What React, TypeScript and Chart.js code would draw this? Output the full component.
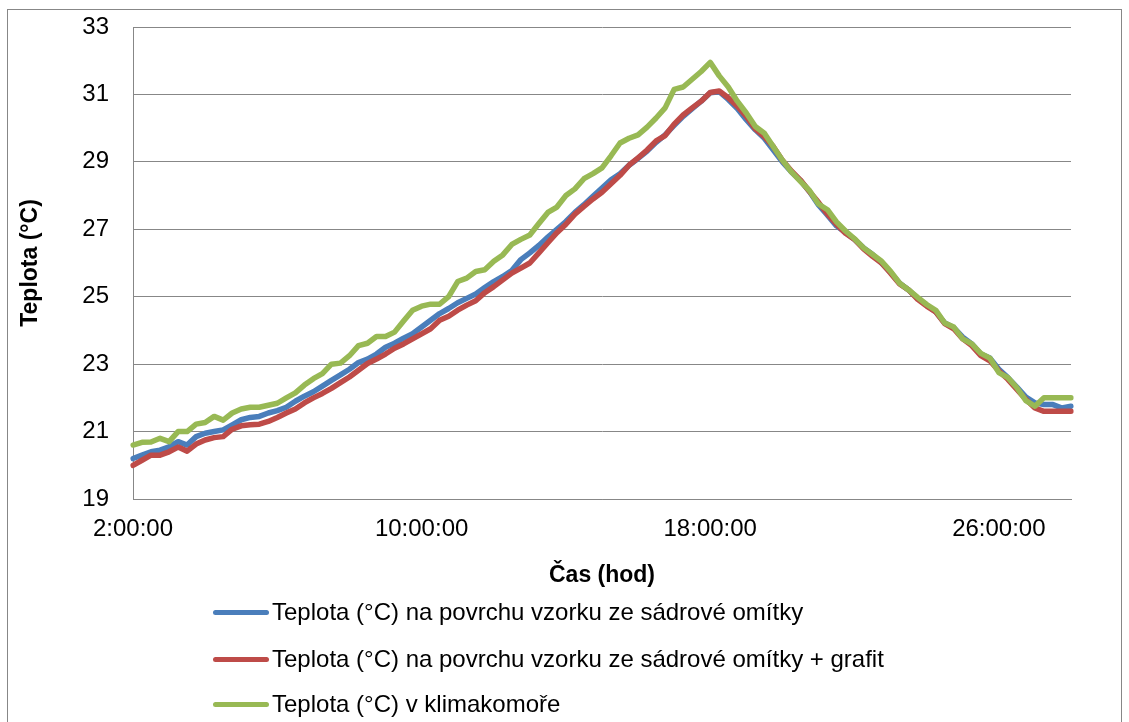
import React, { useEffect, useRef } from 'react';
import { Chart, registerables } from 'chart.js';

Chart.register(...registerables);

// Time categories: every 15 minutes from 2:00:00 to 28:00:00
const startMinutes = 2 * 60;
const stepMinutes = 15;
const pointCount = 105;
const timeLabels: string[] = Array.from({ length: pointCount }, (_, i) => {
  const m = startMinutes + i * stepMinutes;
  const h = Math.floor(m / 60);
  const mm = m % 60;
  return `${h}:${String(mm).padStart(2, '0')}:00`;
});
const shownTickLabels = ['2:00:00', '10:00:00', '18:00:00', '26:00:00'];

const yMin = 19;
const yMax = 33;
const yStep = 2;

const seriesNames = [
  'Teplota (°C) na povrchu vzorku ze sádrové omítky',
  'Teplota (°C) na povrchu vzorku ze sádrové omítky + grafit',
  'Teplota (°C) v klimakomoře',
];
const seriesColors = ['#4A7EBB', '#BE4B48', '#98B954'];

const plasterSurface = [
  20.2, 20.3, 20.4, 20.45, 20.55, 20.7, 20.6, 20.85, 20.95, 21.0,
  21.05, 21.2, 21.35, 21.42, 21.45, 21.55, 21.62, 21.72, 21.9, 22.05,
  22.18, 22.35, 22.52, 22.68, 22.85, 23.05, 23.15, 23.3, 23.5, 23.62,
  23.77, 23.9, 24.1, 24.3, 24.5, 24.65, 24.82, 24.95, 25.08, 25.27,
  25.45, 25.6, 25.78, 26.1, 26.3, 26.52, 26.77, 27.0, 27.23, 27.5,
  27.73, 27.98, 28.22, 28.47, 28.65, 28.9, 29.1, 29.32, 29.58, 29.8,
  30.08, 30.35, 30.58, 30.8, 31.05, 31.08, 30.85, 30.58, 30.25, 29.95,
  29.7, 29.35, 29.0, 28.7, 28.45, 28.12, 27.72, 27.42, 27.1, 26.9,
  26.7, 26.45, 26.25, 26.0, 25.72, 25.4, 25.2, 24.95, 24.75, 24.55,
  24.22, 24.08, 23.8, 23.6, 23.3, 23.18, 22.85, 22.6, 22.32, 22.02,
  21.85, 21.8, 21.8, 21.7, 21.75,
];

const plasterGraphiteSurface = [
  20.0, 20.15, 20.3, 20.3, 20.4, 20.54, 20.42, 20.63, 20.75, 20.82,
  20.85, 21.07, 21.17, 21.2, 21.22, 21.3, 21.42, 21.55, 21.67, 21.85,
  22.0, 22.13, 22.28, 22.45, 22.62, 22.82, 23.02, 23.15, 23.3, 23.47,
  23.6, 23.75, 23.9, 24.05, 24.3, 24.42, 24.6, 24.75, 24.88, 25.12,
  25.3, 25.5, 25.7, 25.85, 26.0, 26.3, 26.6, 26.9, 27.15, 27.45,
  27.68, 27.9, 28.1, 28.35, 28.6, 28.9, 29.12, 29.35, 29.62, 29.78,
  30.12, 30.39, 30.6, 30.8, 31.06, 31.1, 30.9, 30.65, 30.35, 29.98,
  29.75, 29.45, 29.05, 28.73, 28.46, 28.12, 27.8, 27.45, 27.15, 26.88,
  26.7, 26.42, 26.2, 26.0, 25.7, 25.38, 25.2, 24.92, 24.72, 24.55,
  24.2, 24.05, 23.75, 23.55, 23.25, 23.1, 22.8, 22.55, 22.25, 21.95,
  21.7, 21.6, 21.6, 21.6, 21.6,
];

const climateChamber = [
  20.6, 20.68, 20.69, 20.8, 20.7, 21.0, 21.0, 21.22, 21.27, 21.45,
  21.34, 21.55, 21.67, 21.72, 21.72, 21.78, 21.84, 22.0, 22.15, 22.38,
  22.57, 22.72, 23.0, 23.03, 23.25, 23.55, 23.62, 23.82, 23.82, 23.95,
  24.28, 24.6, 24.72, 24.78, 24.78, 25.0, 25.45, 25.55, 25.75, 25.8,
  26.05, 26.24, 26.55, 26.7, 26.83, 27.17, 27.5, 27.66, 28.0, 28.2,
  28.5, 28.65, 28.82, 29.18, 29.56, 29.7, 29.8, 30.03, 30.3, 30.6,
  31.15, 31.22, 31.45, 31.68, 31.95, 31.55, 31.22, 30.8, 30.45, 30.05,
  29.85, 29.45, 29.05, 28.7, 28.42, 28.15, 27.75, 27.58, 27.22, 26.95,
  26.72, 26.45, 26.25, 26.05, 25.75, 25.4, 25.2, 24.98, 24.77, 24.6,
  24.22, 24.1, 23.75, 23.6, 23.32, 23.18, 22.75, 22.6, 22.3, 21.92,
  21.75, 22.0, 22.0, 22.0, 22.0,
];

const seriesValues = [plasterSurface, plasterGraphiteSurface, climateChamber];
const drawOrder = [2, 1, 0];

const FONT = "'Liberation Sans', Arial, sans-serif";

export default function App() {
  const canvasRef = useRef<HTMLCanvasElement | null>(null);

  useEffect(() => {
    if (!canvasRef.current) return;
    const chart = new Chart(canvasRef.current, {
      type: 'line',
      data: {
        labels: timeLabels,
        datasets: seriesValues.map((vals, i) => ({
          label: seriesNames[i],
          data: vals,
          borderColor: seriesColors[i],
          backgroundColor: seriesColors[i],
          borderWidth: 5.5,
          pointRadius: 0,
          tension: 0,
          borderJoinStyle: 'round' as const,
          borderCapStyle: 'round' as const,
          order: drawOrder[i],
        })),
      },
      options: {
        animation: false,
        responsive: false,
        maintainAspectRatio: false,
        layout: { padding: { left: 4, top: 27, right: 58, bottom: 133 } },
        plugins: {
          legend: { display: false },
          tooltip: { enabled: false },
        },
        scales: {
          x: {
            type: 'category',
            grid: { display: false, drawTicks: false },
            border: { display: true, color: '#878787', width: 1 },
            ticks: {
              autoSkip: false,
              maxRotation: 0,
              minRotation: 0,
              padding: 16,
              color: '#000',
              font: { family: FONT, size: 24 },
              callback: function (this: any, value: any, index: number) {
                const lbl = timeLabels[index];
                return shownTickLabels.includes(lbl) ? lbl : '';
              },
            },
            title: {
              display: true,
              text: 'Čas (hod)',
              color: '#000',
              font: { family: FONT, size: 23, weight: 'bold' },
              padding: { top: 0, bottom: 0 },
            },
            afterFit: (scale: any) => {
              scale.height = 90;
              scale.paddingLeft = 0;
              scale.paddingRight = 0;
            },
          },
          y: {
            min: yMin,
            max: yMax,
            grid: { display: true, color: '#878787', lineWidth: 1, drawTicks: false },
            border: { display: true, color: '#878787', width: 1 },
            ticks: {
              stepSize: yStep,
              padding: 24,
              color: '#000',
              font: { family: FONT, size: 24 },
            },
            title: {
              display: true,
              text: 'Teplota (°C)',
              color: '#000',
              font: { family: FONT, size: 23, weight: 'bold' },
              padding: { top: 13, bottom: 0 },
            },
            afterFit: (scale: any) => {
              scale.width = 129;
              scale.paddingTop = 0;
              scale.paddingBottom = 0;
            },
          },
        },
      },
    });
    return () => chart.destroy();
  }, []);

  const legendCenters = [612, 659, 704];

  return (
    <div style={{ position: 'fixed', left: 0, top: 0, width: 1129, height: 722, background: '#fff', overflow: 'hidden' }}>
      <canvas ref={canvasRef} width={1129} height={722} style={{ position: 'absolute', left: 0, top: 0, width: 1129, height: 722 }} />
      <div style={{ position: 'absolute', left: 7, top: 9, width: 1113, height: 800, border: '1px solid #878787', pointerEvents: 'none' }} />
      {seriesNames.map((name, i) => (
        <div
          key={name}
          style={{
            position: 'absolute',
            left: 213,
            top: legendCenters[i] - 14,
            height: 28,
            display: 'flex',
            alignItems: 'center',
            fontFamily: FONT,
            fontSize: 24,
            color: '#000',
            whiteSpace: 'nowrap',
          }}
        >
          <div style={{ width: 56, height: 5, borderRadius: 3, background: seriesColors[i], marginRight: 3 }} />
          <span>{name}</span>
        </div>
      ))}
    </div>
  );
}
